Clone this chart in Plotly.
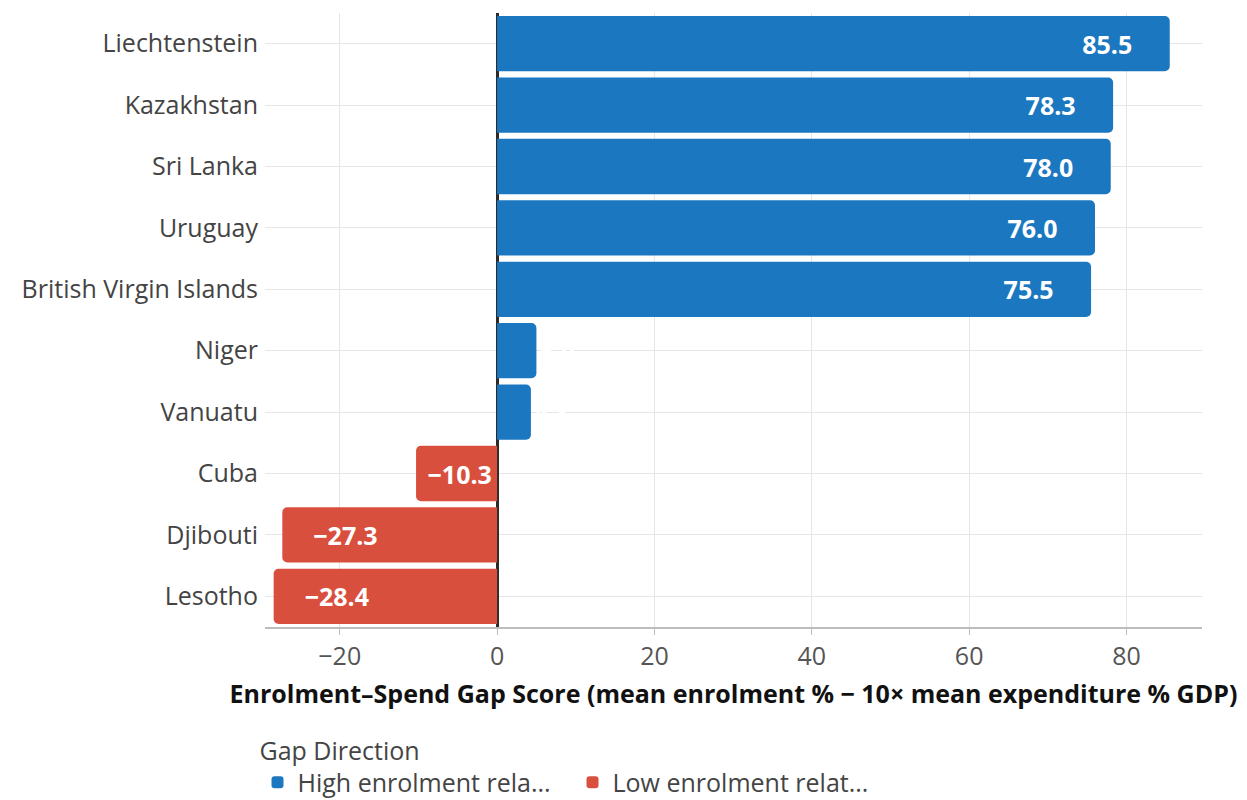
import plotly.graph_objects as go

countries = ["Liechtenstein", "Kazakhstan", "Sri Lanka", "Uruguay", "British Virgin Islands",
             "Niger", "Vanuatu", "Cuba", "Djibouti", "Lesotho"]
scores = [85.5, 78.3, 78.0, 76.0, 75.5, 5.0, 4.3, -10.3, -27.3, -28.4]
high_name = "High enrolment rela..."
low_name = "Low enrolment relat..."
blue = "#1b78c0"
red = "#d94f3e"
NB = "\u00a0"
FONT = "Open Sans"


def label(v):
    if v >= 0:
        return f"{v:.1f}" + NB * 5
    pad = 4 if v < -15 else 1
    return NB * pad + f"{v:.1f}".replace("-", "\u2212")


fig = go.Figure()
groups = [
    (high_name, blue, lambda v: v >= 0),
    (low_name, red, lambda v: v < 0),
]
for name, color, cond in groups:
    ys = [c for c, v in zip(countries, scores) if cond(v)]
    xs = [v for v in scores if cond(v)]
    pos = ["inside" if abs(v) > 8 else "outside" for v in xs]
    fig.add_trace(go.Bar(
        x=xs, y=ys, orientation="h", name=name,
        marker=dict(color=color, line=dict(width=0), cornerradius=5),
        text=[label(v) for v in xs], texttemplate="%{text}", textposition=pos,
        insidetextanchor="end", constraintext="none", textangle=0,
        textfont=dict(family=FONT, size=25, color="white", weight="bold"),
        outsidetextfont=dict(family=FONT, size=25, color="white", weight="bold"),
        cliponaxis=False,
    ))

fig.update_layout(
    width=1247, height=800,
    margin=dict(l=265, r=45, t=13, b=173, autoexpand=False),
    paper_bgcolor="white", plot_bgcolor="white",
    font=dict(family=FONT, size=25, color="#444444"),
    barmode="relative", bargap=0.1,
    xaxis=dict(
        range=[-29.5, 89.6], dtick=20, tick0=0,
        showgrid=True, gridcolor="#e6e6e6", gridwidth=1,
        zeroline=True, zerolinecolor="#2b2b2b", zerolinewidth=3,
        showline=True, linecolor="#bdbdbd", linewidth=2,
        ticks="outside", ticklen=6, tickcolor="#bdbdbd",
        tickfont=dict(size=25, color="#555555"),
        title=dict(text="Enrolment\u2013Spend Gap Score (mean enrolment % \u2212 10\u00d7 mean expenditure % GDP)",
                   font=dict(size=25, color="#111111", weight="bold"), standoff=14),
    ),
    yaxis=dict(
        categoryorder="array", categoryarray=countries[::-1],
        showgrid=True, gridcolor="#e6e6e6", gridwidth=1,
        ticks="", ticklabelstandoff=6,
        tickfont=dict(size=25, color="#444444"),
    ),
    legend=dict(
        orientation="h", x=-0.008, xanchor="left", y=-0.163, yanchor="top",
        entrywidth=270, entrywidthmode="pixels",
        title=dict(text="Gap Direction", side="top", font=dict(size=25, color="#444444")),
        font=dict(size=25, color="#444444"),
    ),
)

fig.write_html("out.html")
